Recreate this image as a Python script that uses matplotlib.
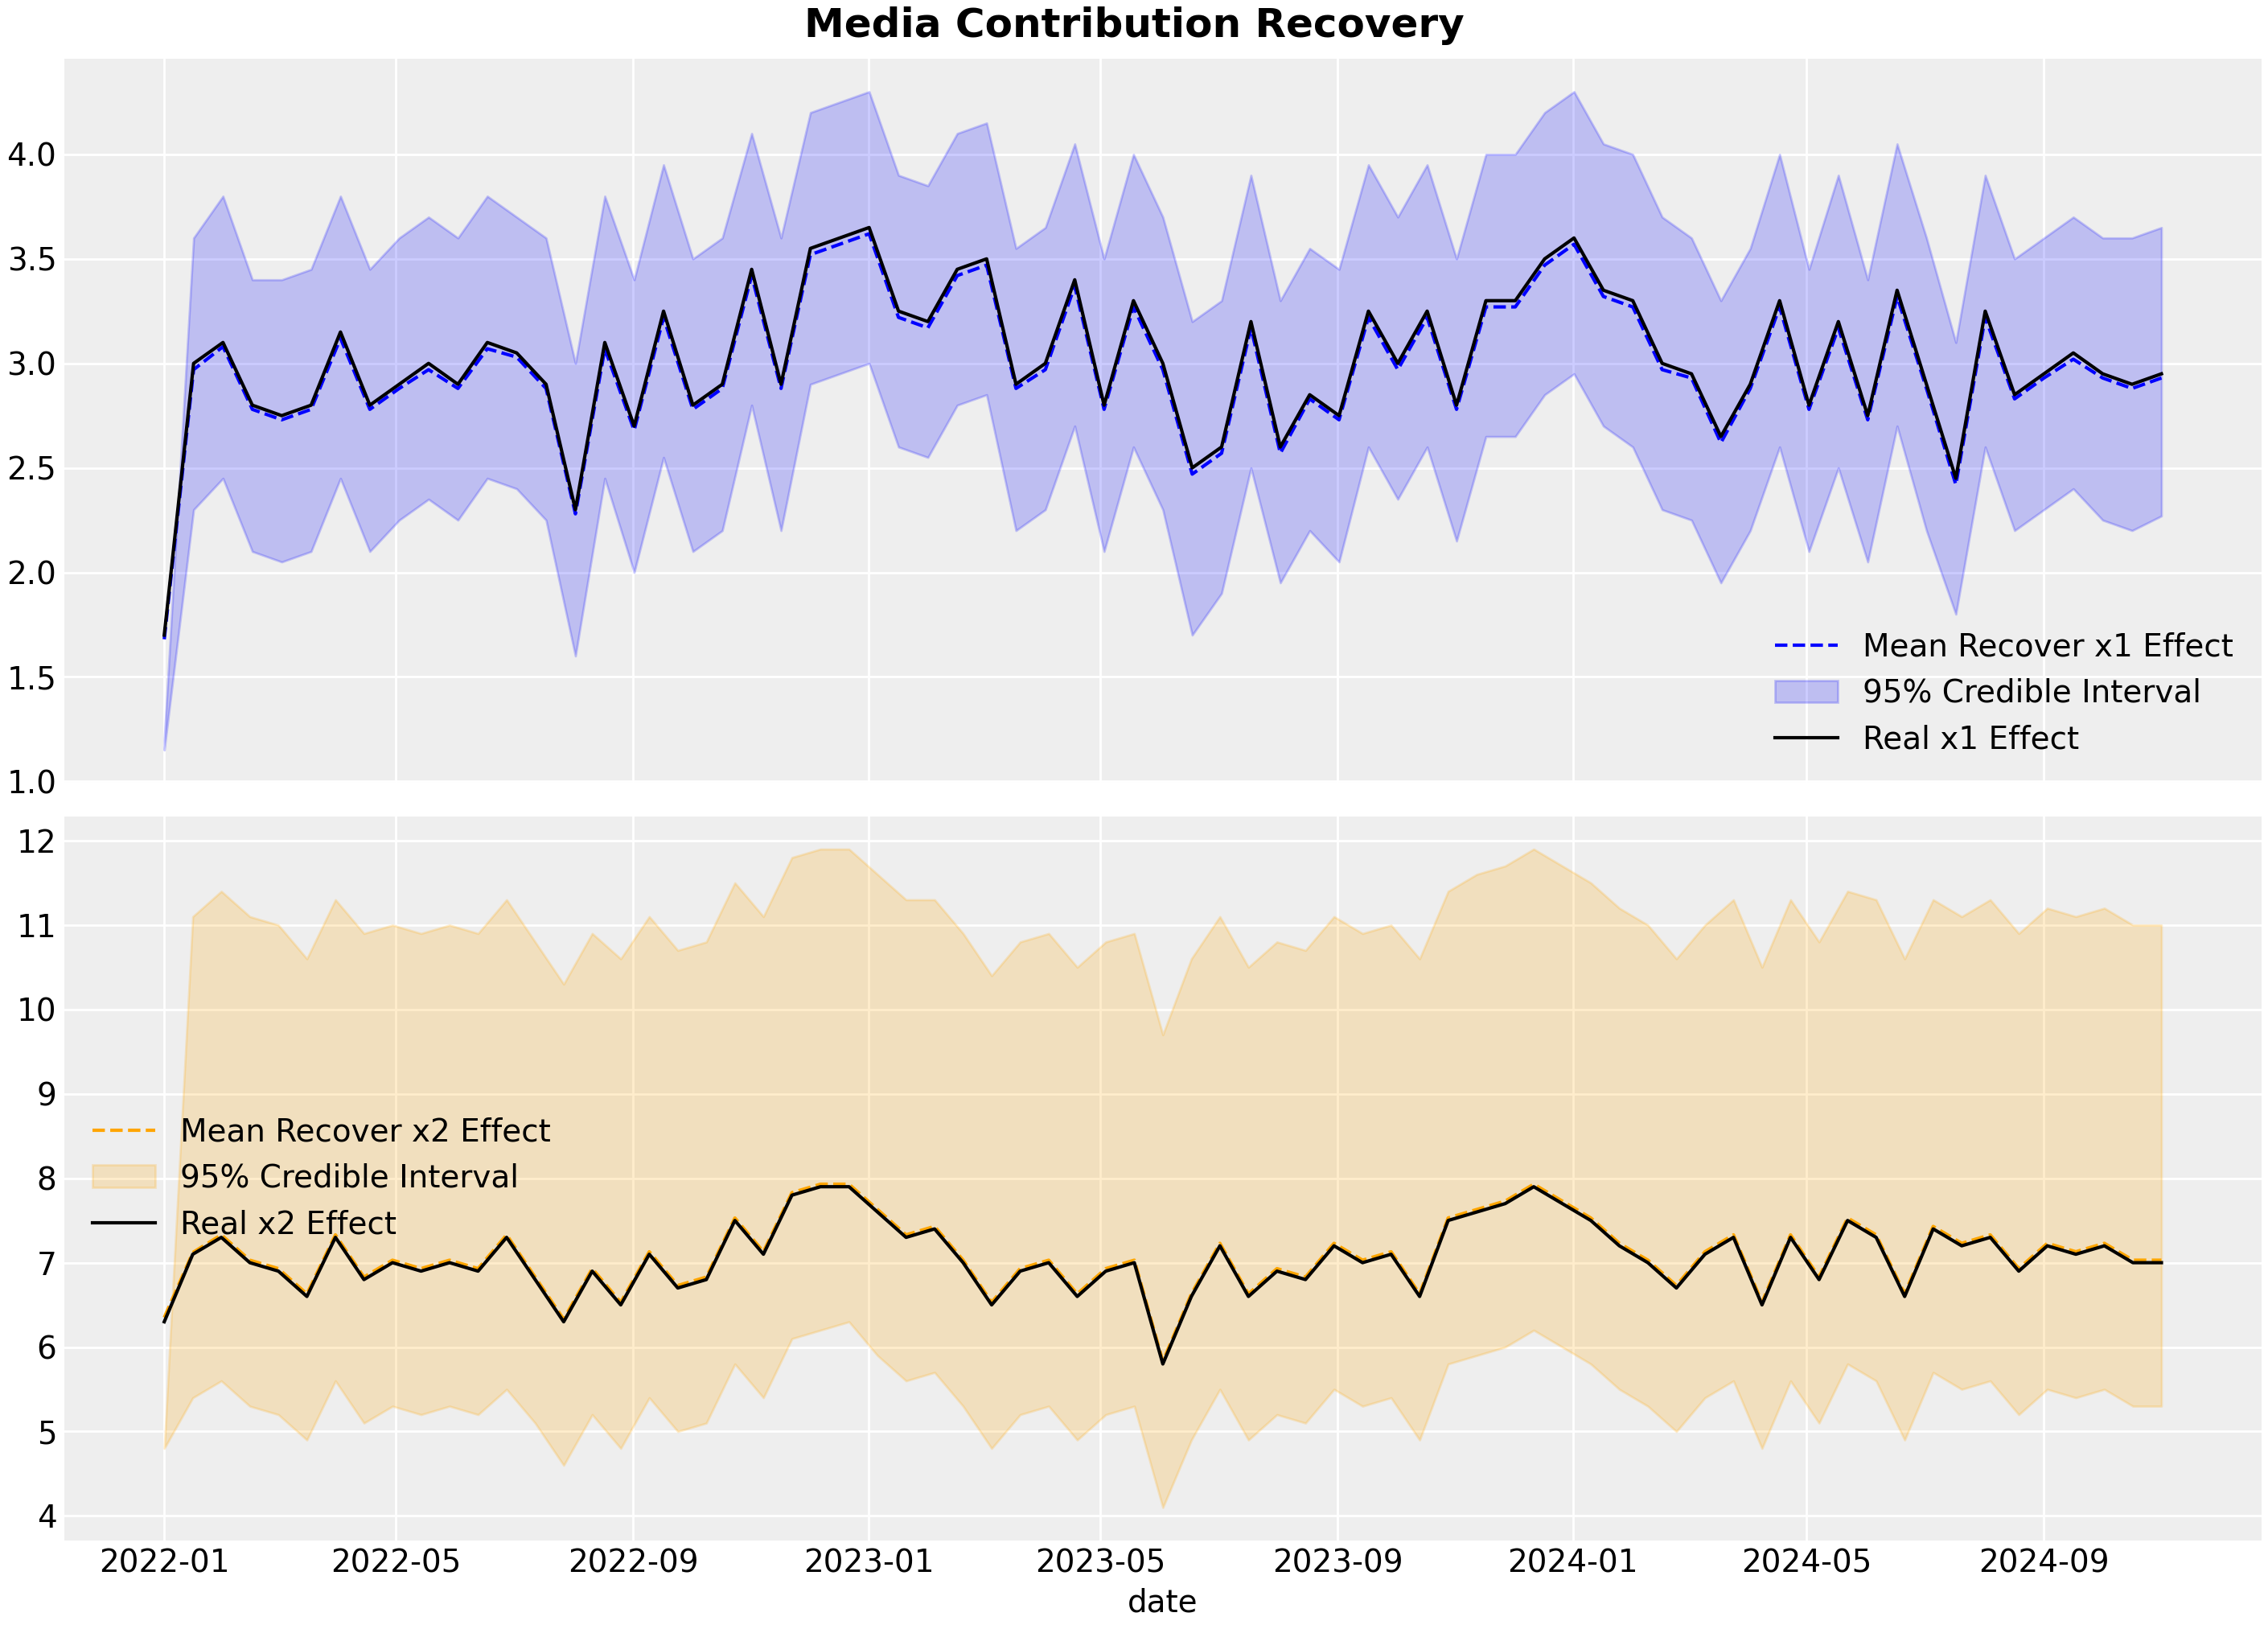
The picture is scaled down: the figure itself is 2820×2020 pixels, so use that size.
import numpy as np
import pandas as pd
import matplotlib
matplotlib.use("Agg")
import matplotlib.pyplot as plt

# roughly semi-monthly readings from the reference, 2022-01-01 .. 2024-11-01
start, end = "2022-01-01", "2024-11-01"

real_x1 = [1.7, 3.0, 3.1, 2.8, 2.75, 2.8, 3.15, 2.8, 2.9, 3.0, 2.9, 3.1, 3.05, 2.9, 2.3, 3.1, 2.7, 3.25,
           2.8, 2.9, 3.45, 2.9, 3.55, 3.6, 3.65, 3.25, 3.2, 3.45, 3.5, 2.9, 3.0, 3.4, 2.8, 3.3, 3.0, 2.5,
           2.6, 3.2, 2.6, 2.85, 2.75, 3.25, 3.0, 3.25, 2.8, 3.3, 3.3, 3.5, 3.6, 3.35, 3.3, 3.0, 2.95, 2.65,
           2.9, 3.3, 2.8, 3.2, 2.75, 3.35, 2.9, 2.45, 3.25, 2.85, 2.95, 3.05, 2.95, 2.9, 2.95]
mean_x1 = [1.68, 2.97, 3.08, 2.78, 2.73, 2.78, 3.12, 2.78, 2.88, 2.97, 2.88, 3.07, 3.03, 2.88, 2.28, 3.07,
           2.68, 3.22, 2.78, 2.88, 3.42, 2.88, 3.52, 3.57, 3.62, 3.22, 3.17, 3.42, 3.47, 2.88, 2.97, 3.37,
           2.78, 3.27, 2.97, 2.47, 2.57, 3.17, 2.57, 2.83, 2.73, 3.22, 2.97, 3.22, 2.78, 3.27, 3.27, 3.47,
           3.57, 3.32, 3.27, 2.97, 2.93, 2.62, 2.88, 3.27, 2.78, 3.17, 2.73, 3.32, 2.88, 2.42, 3.22, 2.83,
           2.93, 3.02, 2.93, 2.88, 2.93]
upper_x1 = [1.2, 3.6, 3.8, 3.4, 3.4, 3.45, 3.8, 3.45, 3.6, 3.7, 3.6, 3.8, 3.7, 3.6, 3.0, 3.8, 3.4, 3.95,
            3.5, 3.6, 4.1, 3.6, 4.2, 4.25, 4.3, 3.9, 3.85, 4.1, 4.15, 3.55, 3.65, 4.05, 3.5, 4.0, 3.7, 3.2,
            3.3, 3.9, 3.3, 3.55, 3.45, 3.95, 3.7, 3.95, 3.5, 4.0, 4.0, 4.2, 4.3, 4.05, 4.0, 3.7, 3.6, 3.3,
            3.55, 4.0, 3.45, 3.9, 3.4, 4.05, 3.6, 3.1, 3.9, 3.5, 3.6, 3.7, 3.6, 3.6, 3.65]
lower_x1 = [1.15, 2.3, 2.45, 2.1, 2.05, 2.1, 2.45, 2.1, 2.25, 2.35, 2.25, 2.45, 2.4, 2.25, 1.6, 2.45, 2.0,
            2.55, 2.1, 2.2, 2.8, 2.2, 2.9, 2.95, 3.0, 2.6, 2.55, 2.8, 2.85, 2.2, 2.3, 2.7, 2.1, 2.6, 2.3,
            1.7, 1.9, 2.5, 1.95, 2.2, 2.05, 2.6, 2.35, 2.6, 2.15, 2.65, 2.65, 2.85, 2.95, 2.7, 2.6, 2.3,
            2.25, 1.95, 2.2, 2.6, 2.1, 2.5, 2.05, 2.7, 2.2, 1.8, 2.6, 2.2, 2.3, 2.4, 2.25, 2.2, 2.27]

real_x2 = [6.3, 7.1, 7.3, 7.0, 6.9, 6.6, 7.3, 6.8, 7.0, 6.9, 7.0, 6.9, 7.3, 6.8, 6.3, 6.9, 6.5, 7.1, 6.7,
           6.8, 7.5, 7.1, 7.8, 7.9, 7.9, 7.6, 7.3, 7.4, 7.0, 6.5, 6.9, 7.0, 6.6, 6.9, 7.0, 5.8, 6.6, 7.2,
           6.6, 6.9, 6.8, 7.2, 7.0, 7.1, 6.6, 7.5, 7.6, 7.7, 7.9, 7.7, 7.5, 7.2, 7.0, 6.7, 7.1, 7.3, 6.5,
           7.3, 6.8, 7.5, 7.3, 6.6, 7.4, 7.2, 7.3, 6.9, 7.2, 7.1, 7.2, 7.0, 7.0]
mean_x2 = [6.35, 7.12, 7.33, 7.03, 6.93, 6.63, 7.33, 6.83, 7.03, 6.93, 7.03, 6.93, 7.33, 6.83, 6.33, 6.93,
           6.53, 7.13, 6.73, 6.83, 7.53, 7.13, 7.83, 7.93, 7.93, 7.63, 7.33, 7.43, 7.03, 6.53, 6.93, 7.03,
           6.63, 6.93, 7.03, 5.83, 6.63, 7.23, 6.63, 6.93, 6.83, 7.23, 7.03, 7.13, 6.63, 7.53, 7.63, 7.73,
           7.93, 7.73, 7.53, 7.23, 7.03, 6.73, 7.13, 7.33, 6.53, 7.33, 6.83, 7.53, 7.33, 6.63, 7.43, 7.23,
           7.33, 6.93, 7.23, 7.13, 7.23, 7.03, 7.03]
upper_x2 = [4.8, 11.1, 11.4, 11.1, 11.0, 10.6, 11.3, 10.9, 11.0, 10.9, 11.0, 10.9, 11.3, 10.8, 10.3, 10.9,
            10.6, 11.1, 10.7, 10.8, 11.5, 11.1, 11.8, 11.9, 11.9, 11.6, 11.3, 11.3, 10.9, 10.4, 10.8, 10.9,
            10.5, 10.8, 10.9, 9.7, 10.6, 11.1, 10.5, 10.8, 10.7, 11.1, 10.9, 11.0, 10.6, 11.4, 11.6, 11.7,
            11.9, 11.7, 11.5, 11.2, 11.0, 10.6, 11.0, 11.3, 10.5, 11.3, 10.8, 11.4, 11.3, 10.6, 11.3, 11.1,
            11.3, 10.9, 11.2, 11.1, 11.2, 11.0, 11.0]
lower_x2 = [4.8, 5.4, 5.6, 5.3, 5.2, 4.9, 5.6, 5.1, 5.3, 5.2, 5.3, 5.2, 5.5, 5.1, 4.6, 5.2, 4.8, 5.4, 5.0,
            5.1, 5.8, 5.4, 6.1, 6.2, 6.3, 5.9, 5.6, 5.7, 5.3, 4.8, 5.2, 5.3, 4.9, 5.2, 5.3, 4.1, 4.9, 5.5,
            4.9, 5.2, 5.1, 5.5, 5.3, 5.4, 4.9, 5.8, 5.9, 6.0, 6.2, 6.0, 5.8, 5.5, 5.3, 5.0, 5.4, 5.6, 4.8,
            5.6, 5.1, 5.8, 5.6, 4.9, 5.7, 5.5, 5.6, 5.2, 5.5, 5.4, 5.5, 5.3, 5.3]


def dates_for(values):
    return pd.date_range(start, end, periods=len(values))


plt.rcParams.update({
    "axes.facecolor": "#eeeeee", "axes.edgecolor": "none", "axes.grid": True,
    "grid.color": "white", "grid.linewidth": 1.0, "font.size": 14,
    "xtick.major.size": 0, "ytick.major.size": 0, "axes.axisbelow": True,
})

fig, axes = plt.subplots(2, 1, figsize=(14.1, 10.1), sharex=True, layout="constrained")

ax = axes[0]
ax.fill_between(dates_for(lower_x1), lower_x1, upper_x1, color="#0000ff", alpha=0.2,
                label="95% Credible Interval")
ax.plot(dates_for(mean_x1), mean_x1, color="blue", ls="--", lw=1.5, label="Mean Recover x1 Effect")
ax.plot(dates_for(real_x1), real_x1, color="black", lw=1.5, label="Real x1 Effect")
h, l = ax.get_legend_handles_labels()
ax.legend([h[1], h[0], h[2]], [l[1], l[0], l[2]], loc="lower right", frameon=False)

ax = axes[1]
ax.fill_between(dates_for(lower_x2), lower_x2, upper_x2, color="#ffa500", alpha=0.2,
                label="95% Credible Interval")
ax.plot(dates_for(mean_x2), mean_x2, color="#ffa500", ls="--", lw=1.5, label="Mean Recover x2 Effect")
ax.plot(dates_for(real_x2), real_x2, color="black", lw=1.5, label="Real x2 Effect")
h, l = ax.get_legend_handles_labels()
ax.legend([h[1], h[0], h[2]], [l[1], l[0], l[2]], loc="center left", frameon=False)
ax.set_xlabel("date")

fig.suptitle("Media Contribution Recovery", fontsize=18, fontweight="bold")
fig.savefig("out.png", dpi=200)
